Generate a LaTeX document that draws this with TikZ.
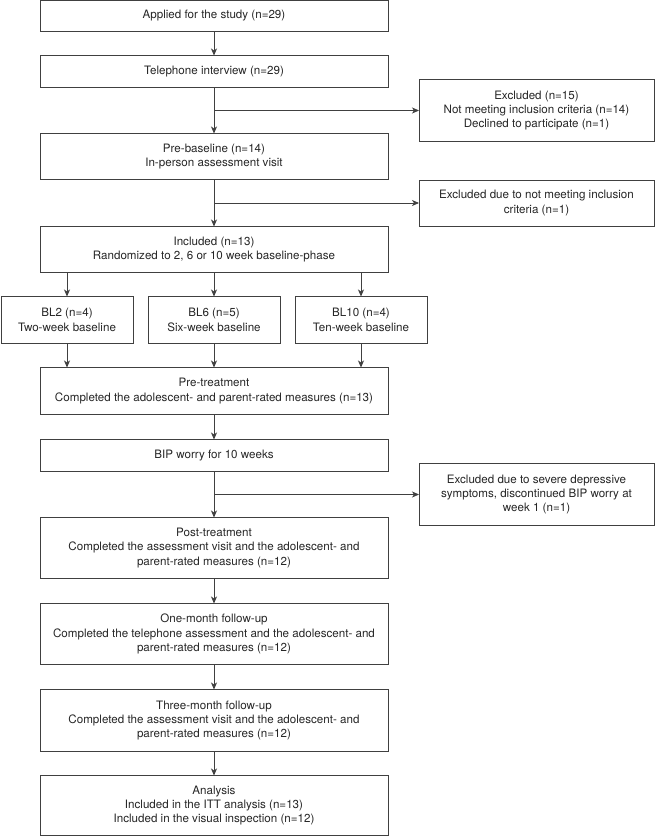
\documentclass[tikz,border=0pt]{standalone}
\usepackage{fontspec}
\setmainfont{TeX Gyre Heros}
\usetikzlibrary{arrows.meta, positioning, calc}

\begin{document}
\begin{tikzpicture}[x=1pt, y=1pt, ->, >={Stealth[length=7pt, width=6pt, inset=2pt]}, line width=0.8pt, black!75]
    \tikzstyle{box} = [draw, text=black!85, align=center, inner sep=0pt, outer sep=0pt, minimum width=348pt, font=\fontsize{11.6}{14.3}\selectfont]
    \tikzstyle{side} = [box, minimum width=235pt]
    \tikzstyle{arm} = [box, minimum width=132pt, minimum height=47pt]
    \useasboundingbox (0,0) rectangle (655,-837);
    \node [box, minimum height=31pt] at (214,-16) (applied) {Applied for the study (n=29)};
    \node [box, minimum height=32pt, below=24pt of applied] (phone) {Telephone interview (n=29)};
    \node [box, minimum height=46pt, below=46pt of phone] (prebase) {Pre-baseline (n=14)\\In-person assessment visit};
    \node [box, minimum height=46pt, below=47pt of prebase] (incl) {Included (n=13)\\Randomized to 2, 6 or 10 week baseline-phase};
    \node [arm, below=24pt of incl] (bl6) {BL6 (n=5)\\Six-week baseline};
    \node [arm, left=15pt of bl6] (bl2) {BL2 (n=4)\\Two-week baseline};
    \node [arm, right=15pt of bl6] (bl10) {BL10 (n=4)\\Ten-week baseline};
    \node [box, minimum height=47pt, below=24pt of bl6] (pretreat) {Pre-treatment\\Completed the adolescent- and parent-rated measures (n=13)};
    \node [box, minimum height=32pt, below=25pt of pretreat] (bip) {BIP worry for 10 weeks};
    \node [box, minimum height=61pt, below=46pt of bip] (post) {Post-treatment\\Completed the assessment visit and the adolescent- and\\parent-rated measures (n=12)};
    \node [box, minimum height=61pt, below=25pt of post] (onemonth) {One-month follow-up\\Completed the telephone assessment and the adolescent- and\\parent-rated measures (n=12)};
    \node [box, minimum height=62pt, below=25pt of onemonth] (threemonth) {Three-month follow-up\\Completed the assessment visit and the adolescent- and\\parent-rated measures (n=12)};
    \node [box, minimum height=60pt, below=24pt of threemonth] (analysis) {Analysis\\Included in the ITT analysis (n=13)\\Included in the visual inspection (n=12)};
    % side branches
    \path (phone.east) ++(31,0) coordinate (rightcol);
    \coordinate (split1) at ($(phone.south)!0.5!(prebase.north)$);
    \coordinate (split2) at ($(prebase.south)!0.5!(incl.north)$);
    \coordinate (split3) at ($(bip.south)!0.5!(post.north)$);
    \node [side, minimum height=62pt, anchor=west] at (split1 -| rightcol) (excl1) {Excluded (n=15)\\Not meeting inclusion criteria (n=14)\\Declined to participate (n=1)};
    \node [side, minimum height=46pt, anchor=west] at (split2 -| rightcol) (excl2) {Excluded due to not meeting inclusion\\criteria (n=1)};
    \node [side, minimum height=62pt, anchor=west] at (split3 -| rightcol) (excl3) {Excluded due to severe depressive\\symptoms, discontinued BIP worry at\\week 1 (n=1)};
    \draw (applied) -- (phone);
    \draw (phone) -- (prebase);
    \draw (split1) -- (excl1);
    \draw (prebase) -- (incl);
    \draw (split2) -- (excl2);
    \draw (incl.south -| bl2) -- (bl2);
    \draw (incl) -- (bl6);
    \draw (incl.south -| bl10) -- (bl10);
    \draw (bl2) -- (bl2 |- pretreat.north);
    \draw (bl6) -- (pretreat);
    \draw (bl10) -- (bl10 |- pretreat.north);
    \draw (pretreat) -- (bip);
    \draw (bip) -- (post);
    \draw (split3) -- (excl3);
    \draw (post) -- (onemonth);
    \draw (onemonth) -- (threemonth);
    \draw (threemonth) -- (analysis);
\end{tikzpicture}
\end{document}
